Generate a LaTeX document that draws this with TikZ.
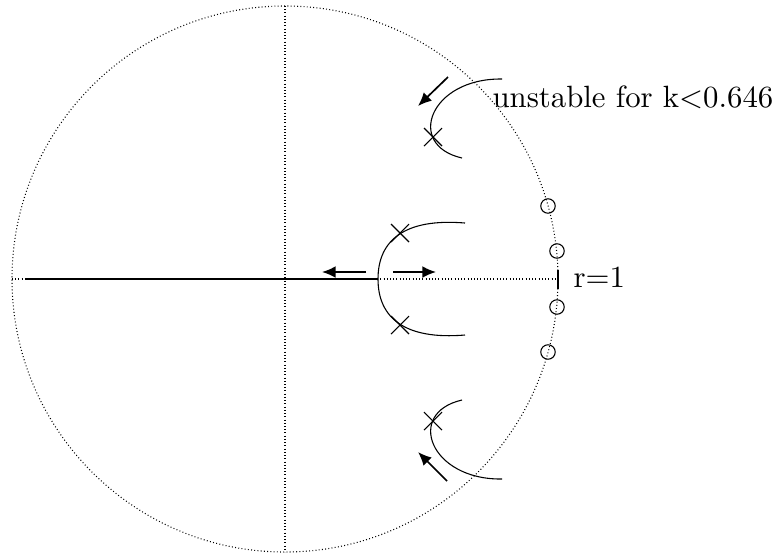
\documentclass[tikz,border=0pt]{standalone}
\usetikzlibrary{arrows.meta,shapes.misc}
\begin{document}
\begin{tikzpicture}[x=0.325pt,y=-0.325pt,
  fine/.style={line width=0.35pt},
  dots/.style={line width=0.35pt,dash pattern=on 0.3pt off 0.75pt},
  pole/.style={cross out,draw,line width=0.35pt,minimum size=5.5pt,inner sep=0pt},
  zero/.style={circle,draw,line width=0.35pt,minimum size=4.7pt,inner sep=0pt},
  dir/.style={line width=0.55pt,-{Latex[length=4.4pt,width=3.8pt]}},
  lbl/.style={anchor=base west,inner sep=0pt,font=\normalsize}]
\useasboundingbox (0,0) rectangle (780,554);
% unit circle and axes
\coordinate (O) at (285,279);
\draw[dots] (O) circle[radius=273];
\coordinate (top) at (285,6);
\coordinate (bot) at (285,552);
\coordinate (lft) at (12,279);
\coordinate (rgt) at (558,279);
\coordinate (sol) at (25,279);
\coordinate (brk) at (378,279);
\draw[dots] (top) -- (bot);
\draw[dots] (lft) -- (rgt);
\draw[fine] (sol) -- (brk);
\coordinate (tk1) at (558,270);
\coordinate (tk2) at (558,289);
\draw[line width=0.5pt] (tk1) -- (tk2);
\node[lbl] (rlab) at (573,287) {r=1};
% zeros
\node[zero] (z1) at (548,206) {};
\node[zero] (z2) at (557,251) {};
\node[zero] (z3) at (557,307) {};
\node[zero] (z4) at (548,352) {};
% poles
\node[pole] (p1) at (433,137) {};
\node[pole] (p2) at (400,233) {};
\node[pole] (p3) at (400,325) {};
\node[pole] (p4) at (433,421) {};
% root locus branches
\coordinate (a1) at (502,79);
\coordinate (a2) at (462,158);
\draw[fine] (a1) .. controls (430,78) and (405,145) .. (a2);
\coordinate (b1) at (502,479);
\coordinate (b2) at (462,400);
\draw[fine] (b1) .. controls (430,480) and (405,413) .. (b2);
\coordinate (m1) at (465,223);
\coordinate (m2) at (465,335);
\draw[fine] (m1) .. controls (405,218) and (378,240) .. (brk);
\draw[fine] (m2) .. controls (405,340) and (378,318) .. (brk);
% direction arrows
\coordinate (u1) at (448,77);
\coordinate (u2) at (418,106);
\draw[dir] (u1) -- (u2);
\coordinate (d1) at (447,481);
\coordinate (d2) at (418,452);
\draw[dir] (d1) -- (d2);
\coordinate (l1) at (366,272);
\coordinate (l2) at (322,272);
\draw[dir] (l1) -- (l2);
\coordinate (r1) at (393,272);
\coordinate (r2) at (436,272);
\draw[dir] (r1) -- (r2);
\node[lbl] (ulab) at (492,107) {unstable for k<0.646};
\end{tikzpicture}
\end{document}
